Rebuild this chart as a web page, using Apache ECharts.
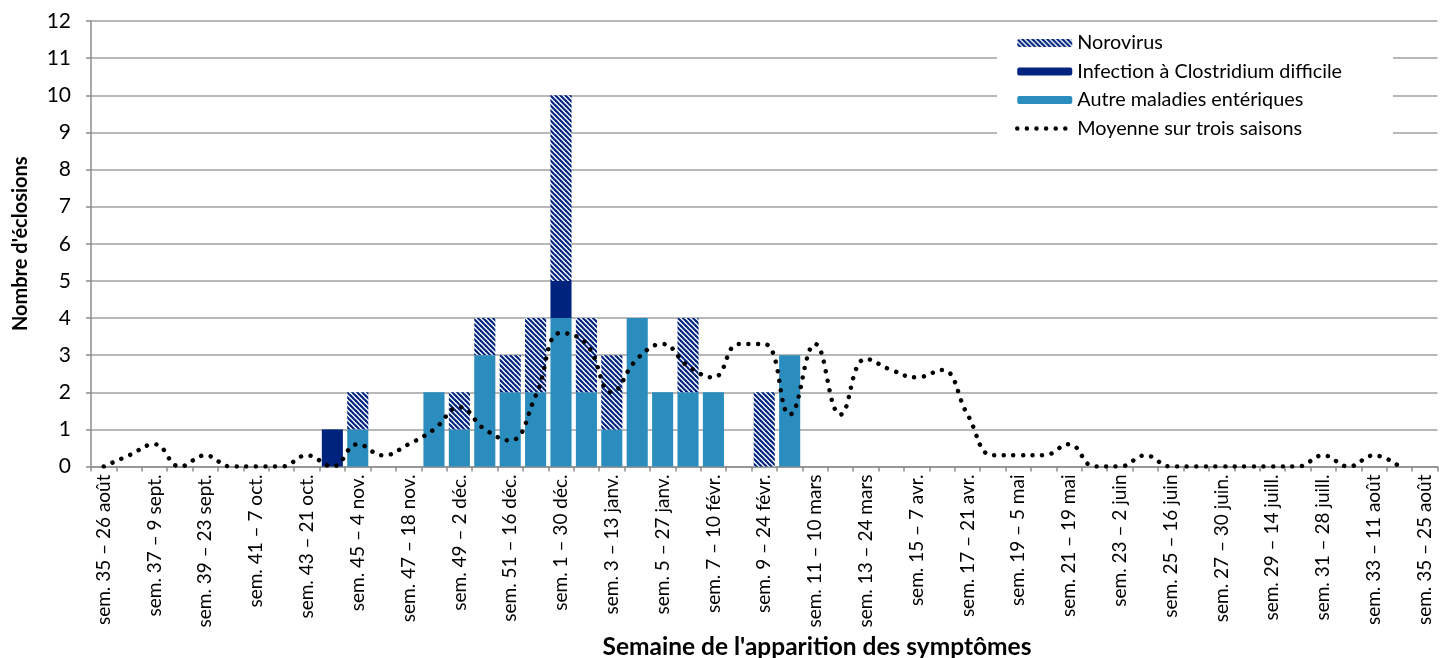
<!DOCTYPE html>
<html>
<head>
<meta charset="utf-8">
<script src="https://cdn.jsdelivr.net/npm/echarts@6/dist/echarts.min.js"></script>
<style>
html,body{margin:0;padding:0;background:#fff;}
#chart{width:1447px;height:658px;}
</style>
</head>
<body>
<div id="chart"></div>
<script>
// Weeks (sem. 35 → sem. 35 of the following year)
const categories = [
  'sem. 35 – 26 août','sem. 36 – 2 sept.','sem. 37 – 9 sept.','sem. 38 – 16 sept.','sem. 39 – 23 sept.',
  'sem. 40 – 30 sept.','sem. 41 – 7 oct.','sem. 42 – 14 oct.','sem. 43 – 21 oct.','sem. 44 – 28 oct.',
  'sem. 45 – 4 nov.','sem. 46 – 11 nov.','sem. 47 – 18 nov.','sem. 48 – 25 nov.','sem. 49 – 2 déc.',
  'sem. 50 – 9 déc.','sem. 51 – 16 déc.','sem. 52 – 23 déc.','sem. 1 – 30 déc.','sem. 2 – 6 janv.',
  'sem. 3 – 13 janv.','sem. 4 – 20 janv.','sem. 5 – 27 janv.','sem. 6 – 3 févr.','sem. 7 – 10 févr.',
  'sem. 8 – 17 févr.','sem. 9 – 24 févr.','sem. 10 – 3 mars','sem. 11 – 10 mars','sem. 12 – 17 mars',
  'sem. 13 – 24 mars','sem. 14 – 31 mars','sem. 15 – 7 avr.','sem. 16 – 14 avr.','sem. 17 – 21 avr.',
  'sem. 18 – 28 avr.','sem. 19 – 5 mai','sem. 20 – 12 mai','sem. 21 – 19 mai','sem. 22 – 26 mai',
  'sem. 23 – 2 juin','sem. 24 – 9 juin','sem. 25 – 16 juin','sem. 26 – 23 juin','sem. 27 – 30 juin.',
  'sem. 28 – 7 juill.','sem. 29 – 14 juill.','sem. 30 – 21 juill.','sem. 31 – 28 juill.','sem. 32 – 4 août',
  'sem. 33 – 11 août','sem. 34 – 18 août','sem. 35 – 25 août'
];

const autres = [
  0,0,0,0,0,0,0,0,0,0,
  1,0,0,2,1,3,2,2,4,2,
  1,4,2,2,2,0,0,3,0,0,
  0,0,0,0,0,0,0,0,0,0,
  0,0,0,0,0,0,0,0,0,0,
  0,0,0
];
const clostridium = [
  0,0,0,0,0,0,0,0,0,1,
  0,0,0,0,0,0,0,0,1,0,
  0,0,0,0,0,0,0,0,0,0,
  0,0,0,0,0,0,0,0,0,0,
  0,0,0,0,0,0,0,0,0,0,
  0,0,0
];
const norovirus = [
  0,0,0,0,0,0,0,0,0,0,
  1,0,0,0,1,1,1,2,5,2,
  2,0,0,2,0,0,2,0,0,0,
  0,0,0,0,0,0,0,0,0,0,
  0,0,0,0,0,0,0,0,0,0,
  0,0,0
];
const moyenne = [
  0,0.3,0.6,0,0.3,0,0,0,0.3,0,
  0.6,0.3,0.6,1.0,1.6,1.0,0.7,1.9,3.6,3.3,
  2.0,2.9,3.3,2.7,2.4,3.3,3.3,1.4,3.3,1.4,
  2.9,2.6,2.4,2.6,1.4,0.3,0.3,0.3,0.6,0,
  0,0.3,0,0,0,0,0,0,0.3,0,
  0.3,0,null
];
const yTicks = [0,1,2,3,4,5,6,7,8,9,10,11,12];
const xTitle = 'Semaine de l\'apparition des symptômes';
const yTitle = 'Nombre d\'éclosions';
const legendNames = ['Norovirus', 'Infection à Clostridium difficile', 'Autre maladies entériques', 'Moyenne sur trois saisons'];

const FONT = 'Lato';
const NAVY = '#00247D';
const BLUE = '#2B8CBE';
const DOTS = { color: '#000', width: 4.5, type: [0.01, 9.6], cap: 'round' };

function hatch() {
  const s = 5;
  const c = document.createElement('canvas');
  c.width = s; c.height = s;
  const g = c.getContext('2d');
  g.fillStyle = '#ffffff';
  g.fillRect(0, 0, s, s);
  g.strokeStyle = NAVY;
  g.lineWidth = 2.2;
  for (const x0 of [-s, 0, s]) {
    g.beginPath();
    g.moveTo(x0 - 1, -1);
    g.lineTo(x0 + s + 1, s + 1);
    g.stroke();
  }
  return { image: c, repeat: 'repeat' };
}

const chart = echarts.init(document.getElementById('chart'), null, { renderer: 'canvas' });
chart.setOption({
  animation: false,
  backgroundColor: '#ffffff',
  textStyle: { fontFamily: FONT, color: '#000' },
  graphic: [{
    type: 'text', x: 817, y: 647, z: 10,
    style: { text: xTitle, textAlign: 'center', textVerticalAlign: 'middle',
      font: 'bold 24.5px ' + FONT, fill: '#000' }
  }],
  grid: { left: 91, right: 9.5, top: 21, bottom: 191.5, containLabel: false },
  legend: {
    orient: 'vertical',
    left: 997, top: 25,
    padding: [8, 51, 12, 18],
    backgroundColor: '#ffffff',
    itemWidth: 55, itemHeight: 8, itemGap: 8.5,
    textStyle: { fontFamily: FONT, fontSize: 19.8, color: '#000', lineHeight: 20 },
    data: [
      legendNames[0], legendNames[1], legendNames[2],
      { name: legendNames[3], itemStyle: { color: 'rgba(0,0,0,0)' }, lineStyle: DOTS }
    ]
  },
  xAxis: {
    type: 'category',
    data: categories,
    boundaryGap: true,
    axisLine: { lineStyle: { color: '#8c8c8c', width: 1.5 } },
    axisTick: { show: true, interval: 0, length: 5, lineStyle: { color: '#8c8c8c', width: 1.5 } },
    axisLabel: { interval: 1, rotate: 90, fontFamily: FONT, fontSize: 19, color: '#000', margin: 8 }
  },
  yAxis: {
    type: 'value',
    min: 0, max: 12, interval: 1,
    name: yTitle,
    nameLocation: 'middle',
    nameGap: 60,
    nameTextStyle: { fontFamily: FONT, fontSize: 20, fontWeight: 'bold', color: '#000' },
    axisLine: { show: true, lineStyle: { color: '#8c8c8c', width: 1.5 } },
    axisTick: { show: true, length: 5, lineStyle: { color: '#8c8c8c', width: 1.5 } },
    axisLabel: { fontFamily: FONT, fontSize: 21, color: '#000', margin: 20,
      formatter: v => String(yTicks[v] !== undefined ? yTicks[v] : v) },
    splitLine: { lineStyle: { color: '#a0a0a0', width: 1.5 } }
  },
  series: [
    { name: legendNames[2], type: 'bar', stack: 'total', data: autres,
      barCategoryGap: '17%', itemStyle: { color: BLUE } },
    { name: legendNames[1], type: 'bar', stack: 'total', data: clostridium,
      itemStyle: { color: NAVY } },
    { name: legendNames[0], type: 'bar', stack: 'total', data: norovirus,
      itemStyle: { color: hatch() } },
    { name: legendNames[3], type: 'line', data: moyenne, smooth: 0.45,
      symbol: 'none', showSymbol: false, z: 5,
      itemStyle: { color: '#000' },
      lineStyle: DOTS }
  ]
});
</script>
</body>
</html>
